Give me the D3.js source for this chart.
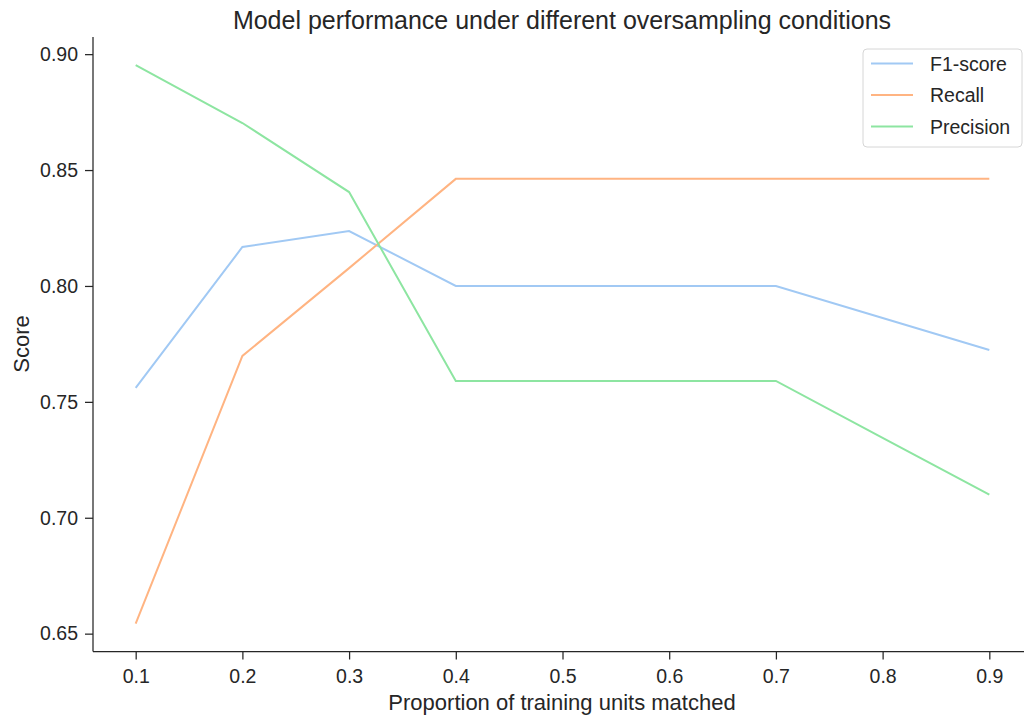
<!DOCTYPE html>
<meta charset="utf-8">
<title>Model performance</title>
<style>
body {
  margin: 0;
  background: #fff;
}
text {
  font-family: "Liberation Sans", Arial, sans-serif;
  fill: #262626;
}
.axis line, .spine {
  stroke: #262626;
  stroke-width: 1.25px;
}
</style>
<body>
<script src="https://cdnjs.cloudflare.com/ajax/libs/d3/7.8.5/d3.min.js"></script>
<script>
var proportions = [0.1, 0.2, 0.3, 0.4, 0.5, 0.6, 0.7, 0.8, 0.9];
var f1 = [0.756, 0.8168, 0.8237, 0.800, 0.800, 0.800, 0.800, 0.7862, 0.7724];
var recall = [0.6543, 0.7698, 0.8077, 0.8462, 0.8462, 0.8462, 0.8462, 0.8462, 0.8462];
var precision = [0.8953, 0.8703, 0.8405, 0.759, 0.759, 0.759, 0.759, 0.7345, 0.7100];
var seriesNames = ["F1-score", "Recall", "Precision"];
var colors = ["#a1c9f4", "#ffb482", "#8de5a1"];
var xTicks = [0.1, 0.2, 0.3, 0.4, 0.5, 0.6, 0.7, 0.8, 0.9];
var yTicks = [0.65, 0.70, 0.75, 0.80, 0.85, 0.90];

var w = 1024,
    h = 715,
    left = 93,
    bottom = 651.5;

var series = [f1, recall, precision];

var x = d3.scaleLinear().domain([0.06, 0.94]).range([left, 1032]);
var y = d3.scaleLinear().domain([0.6423, 0.9074]).range([bottom, 37]);

var svg = d3.select("body").append("svg")
    .attr("width", w)
    .attr("height", h);

var xAxis = svg.append("g")
    .attr("class", "axis")
    .attr("transform", "translate(0," + bottom + ")")
    .call(d3.axisBottom(x).tickValues(xTicks).tickFormat(d3.format(".1f")).tickSize(8).tickPadding(10));

var yAxis = svg.append("g")
    .attr("class", "axis")
    .attr("transform", "translate(" + left + ",0)")
    .call(d3.axisLeft(y).tickValues(yTicks).tickFormat(d3.format(".2f")).tickSize(8).tickPadding(7));

svg.selectAll(".axis .domain").remove();
svg.selectAll(".axis text")
    .style("font-family", "'Liberation Sans', Arial, sans-serif")
    .style("font-size", "19.5px")
    .attr("fill", "#262626");

// spines (left and bottom only)
svg.append("line").attr("class", "spine")
    .attr("x1", left).attr("x2", left)
    .attr("y1", y.range()[1]).attr("y2", bottom);
svg.append("line").attr("class", "spine")
    .attr("x1", left).attr("x2", w)
    .attr("y1", bottom).attr("y2", bottom);

var line = d3.line()
    .x(function(d, i) { return x(proportions[i]); })
    .y(function(d) { return y(d); });

svg.selectAll(".series")
    .data(series)
  .enter().append("path")
    .attr("class", "series")
    .attr("d", line)
    .attr("fill", "none")
    .attr("stroke", function(d, i) { return colors[i]; })
    .attr("stroke-width", 2);

svg.append("text")
    .attr("x", 562)
    .attr("y", 29)
    .attr("text-anchor", "middle")
    .style("font-size", "25px")
    .text("Model performance under different oversampling conditions");

svg.append("text")
    .attr("x", 562)
    .attr("y", 710)
    .attr("text-anchor", "middle")
    .style("font-size", "22px")
    .text("Proportion of training units matched");

svg.append("text")
    .attr("transform", "translate(29,344)rotate(-90)")
    .attr("text-anchor", "middle")
    .style("font-size", "22px")
    .text("Score");

var legend = svg.append("g").attr("transform", "translate(863,49)");
legend.append("rect")
    .attr("width", 159)
    .attr("height", 98)
    .attr("rx", 4)
    .attr("fill", "#fff")
    .attr("stroke", "#d6d6d6");
var item = legend.selectAll(".item")
    .data(seriesNames)
  .enter().append("g")
    .attr("transform", function(d, i) { return "translate(0," + (14.5 + i * 31.5) + ")"; });
item.append("line")
    .attr("x1", 8).attr("x2", 50)
    .attr("stroke", function(d, i) { return colors[i]; })
    .attr("stroke-width", 2);
item.append("text")
    .attr("x", 67)
    .attr("y", 7)
    .style("font-size", "19.5px")
    .text(function(d) { return d; });
</script>
